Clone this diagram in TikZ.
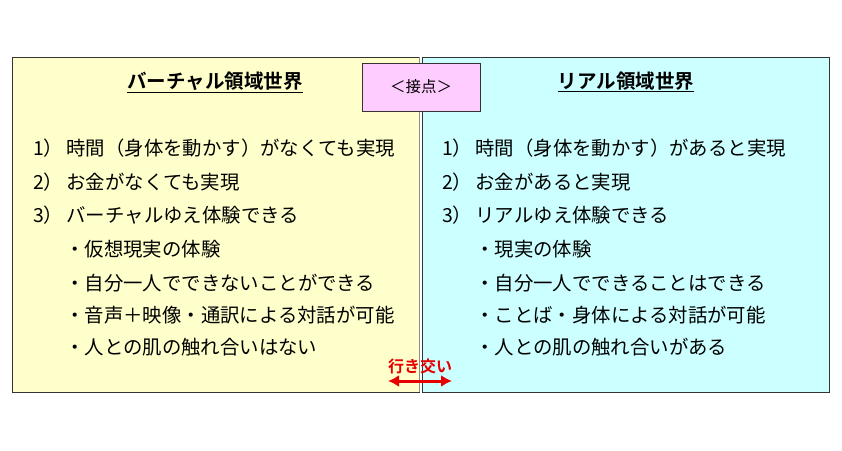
\documentclass[tikz,border=0pt]{standalone}
\usepackage{fontspec}
\newfontfamily\jp{Noto Sans CJK JP}
\newfontfamily\jpb{Noto Sans CJK JP Bold}
\usetikzlibrary{arrows.meta}
\definecolor{yel}{HTML}{FFFFCC}
\definecolor{cyn}{HTML}{CCFFFF}
\definecolor{pnk}{HTML}{FFCCFF}
\definecolor{arr}{HTML}{E60000}
\begin{document}
\begin{tikzpicture}[x=1pt,y=-1pt,
  panel/.style={draw=black!80,line width=0.9pt},
  body/.style={anchor=west,inner sep=0pt,font=\jp\fontsize{19.4}{21}\selectfont},
  ttl/.style={inner sep=0pt,font=\jpb\fontsize{19.5}{21}\selectfont}]
\useasboundingbox[fill=white] (0,0) rectangle (842,450);
\path[panel,fill=yel] (12,57) rectangle (419,392);
\path[panel,fill=cyn] (422,57) rectangle (829,392);
\draw[black!45,line width=1.6pt] (419.5,57) -- (419.5,392);
\node[draw=black!80,line width=0.8pt,fill=pnk,minimum width=118pt,minimum height=48pt,inner sep=0pt,
  font=\jp\fontsize{15.5}{17}\selectfont] (contact) at (421,87) {＜接点＞};
\node[ttl] (lt) at (215,82) {\underline{バーチャル領域世界}};
\node[ttl] (rt) at (626,82) {\underline{リアル領域世界}};
% left
\node[body] (l1) at (33,148) {1）\,時間（身体を動かす）がなくても実現};
\node[body] (l2) at (33,182) {2）\,お金がなくても実現};
\node[body] (l3) at (33,215) {3）\,バーチャルゆえ体験できる};
\node[body] (l4) at (65,249) {・仮想現実の体験};
\node[body] (l5) at (65,283) {・自分一人でできないことができる};
\node[body] (l6) at (65,315) {・音声＋映像・通訳による対話が可能};
\node[body] (l7) at (65,347) {・人との肌の触れ合いはない};
% right
\node[body] (r1) at (442,148) {1）\,時間（身体を動かす）があると実現};
\node[body] (r2) at (442,182) {2）\,お金があると実現};
\node[body] (r3) at (442,215) {3）\,リアルゆえ体験できる};
\node[body] (r4) at (475,249) {・現実の体験};
\node[body] (r5) at (475,283) {・自分一人でできることはできる};
\node[body] (r6) at (475,315) {・ことば・身体による対話が可能};
\node[body] (r7) at (475,347) {・人との肌の触れ合いがある};
% exchange
\node[inner sep=0pt,text=arr,font=\jpb\fontsize{16}{18}\selectfont] (ex) at (420,366) {行き交い};
\coordinate (aL) at (388,381);
\coordinate (aR) at (452,381);
\draw[arr,line width=3pt,{Latex[length=11pt,width=12pt]}-{Latex[length=11pt,width=12pt]}] (aL) -- (aR);
\end{tikzpicture}
\end{document}
